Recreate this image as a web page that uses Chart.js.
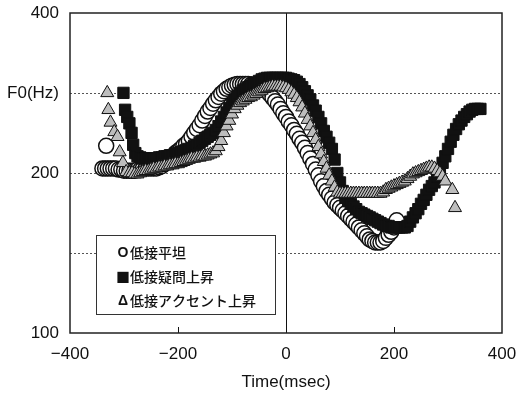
<!DOCTYPE html>
<html><head><meta charset="utf-8">
<script src="https://cdn.jsdelivr.net/npm/chart.js@4/dist/chart.umd.min.js"></script>
<style>html,body{margin:0;padding:0;background:#fff}canvas{display:block}</style>
</head><body>
<canvas id="c" width="531" height="393"></canvas>
<script>
const seriesNames = ['低接平坦', '低接疑問上昇', '低接アクセント上昇'];
const legendSymbols = ['O', '■', 'Δ'];

const s1Time = [-333,
  -340,-335,-330,-325,-320,-315,-310,-305,-300,
  -295,-290,-285,-280,-275,-270,-265,-260,-255,
  -250,-245,-240,-235,-230,-225,-220,-215,-210,
  -205,-200,-195,-190,-185,-180,-175,-170,-165,
  -160,-155,-150,-145,-140,-135,-130,-125,-120,
  -115,-110,-105,-100,-95,-90,-85,-80,-75,
  -70,-65,-60,-55,-50,-45,-40,-35,-30,
  -25,-20,-15,-10,-5,0,5,10,15,
  20,25,30,35,40,45,50,55,60,
  65,70,75,80,85,90,95,100,105,
  110,115,120,125,130,135,140,145,150,
  155,160,165,170,175,180,185,190,195,
  200,205];
const s1F0 = [225,
  204,204,204,204,204,204,203,203,202,
  202,202,202,202,203,203,204,204,204,
  204,204,204,205,206,208,210,212,215,
  218,220,222,225,227,230,234,238,242,
  246,251,256,261,265,270,274,278,282,
  285,288,290,292,293,294,294,294,294,
  294,293,293,292,291,290,288,285,281,
  277,273,269,264,259,255,250,246,241,
  237,232,228,223,218,213,208,203,198,
  193,189,185,182,179,176,174,172,170,
  168,166,164,162,160,158,156,154,152,
  150,149,148,148,148,149,151,153,155,
  158,163];

const s2Time = [-301,-298,-294,-290,-286,-283,-279,-275,
  -270,-265,-260,-255,-250,-245,-240,-235,-230,
  -225,-220,-215,-210,-205,-200,-195,-190,-185,
  -180,-175,-170,-165,-160,-155,-150,-145,-140,
  -135,-130,-125,-120,-115,-110,-105,-100,-95,
  -90,-85,-80,-75,-70,-65,-60,-55,-50,
  -45,-40,-35,-30,-25,-20,-15,-10,-5,
  0,5,10,15,20,25,30,35,40,
  45,50,55,60,65,70,75,80,85,
  90,95,100,105,110,115,120,125,130,
  135,140,145,150,155,160,165,170,175,
  180,185,190,195,200,205,210,215,220,
  225,230,235,240,245,250,255,260,265,
  270,275,280,285,290,295,300,305,310,
  315,320,325,330,335,340,345,350,355,360];
const s2F0 = [283,263,255,248,238,226,218,215,
  214,213,213,213,213,213,213,214,214,
  215,215,216,216,217,218,219,220,221,
  222,223,225,226,228,230,232,234,236,
  238,241,245,250,255,260,265,270,275,
  279,283,286,288,290,292,294,296,298,
  300,301,302,302,302,302,302,302,302,
  302,301,300,299,297,294,290,285,280,
  275,268,262,255,248,240,234,228,222,
  212,200,192,185,180,177,175,173,171,
  169,168,167,166,165,164,163,162,161,
  160,159,159,158,158,158,158,158,158,
  159,162,165,168,171,175,178,182,186,
  189,192,197,203,209,215,222,229,236,
  242,247,251,255,258,261,263,264,264,264];

const s3Time = [-331,-329,-325,-318,-312,-308,-302,-296,
  -290,-285,-280,-275,-270,-265,-260,-255,-250,
  -245,-240,-235,-230,-225,-220,-215,-210,-205,
  -200,-195,-190,-185,-180,-175,-170,-165,-160,
  -155,-150,-145,-140,-135,-130,-125,-120,-115,
  -110,-105,-100,-95,-90,-85,-80,-75,-70,
  -65,-60,-55,-50,-45,-40,-35,-30,-25,
  -20,-15,-10,-5,0,5,10,15,20,
  25,30,35,40,45,50,55,60,65,
  70,75,80,85,90,95,100,105,110,
  115,120,125,130,135,140,145,150,155,
  160,165,170,175,180,185,190,195,200,
  205,210,215,220,225,230,235,240,245,
  250,255,260,265,270,275,280,285,290,
  295,308,313];
const s3F0 = [283,263,249,239,234,219,209,201,
  200,200,199,199,200,201,202,202,203,
  204,204,205,205,206,206,207,207,208,
  208,209,210,211,212,213,213,214,214,
  215,215,216,217,218,220,224,230,238,
  245,251,258,264,268,271,273,275,277,
  278,280,282,284,286,288,289,290,291,
  291,291,291,290,289,287,284,281,277,
  272,266,259,252,245,238,231,224,217,
  210,204,198,193,188,184,183,183,183,
  183,183,183,183,183,183,183,183,183,
  183,183,183,183,184,186,187,188,189,
  190,191,192,193,195,197,199,200,201,
  202,203,204,205,205,204,202,200,197,
  193,186,172];

const xTickValues = [-400, -200, 0, 200, 400];
const yTickValues = [100, 141.42, 200, 282.84, 400];
const yTickLabels = ['100', '', '200', 'F0(Hz)', '400'];
const xTitle = 'Time(msec)';

const toPts = (t, f) => t.map((v, i) => ({x: v, y: f[i]}));
const TXT = '#111';
const tickFont = {family: "'Liberation Sans', Arial, sans-serif", size: 17};

const decor = {
  id: 'decor',
  afterDraw(chart) {
    const {ctx, chartArea: a, scales: {x}} = chart;
    ctx.save();
    ctx.strokeStyle = '#111';
    ctx.lineWidth = 1;
    xTickValues.slice(1, -1).forEach(v => {
      const px = Math.round(x.getPixelForValue(v)) + 0.5;
      ctx.beginPath(); ctx.moveTo(px, a.bottom); ctx.lineTo(px, a.bottom - 6); ctx.stroke();
    });
    ctx.lineWidth = 1.5;
    ctx.strokeStyle = '#222';
    ctx.strokeRect(a.left, a.top, a.right - a.left, a.bottom - a.top);
    // legend box
    const lx = a.left + 26, ly = a.top + 222, lw = 179, lh = 79;
    ctx.fillStyle = '#fff';
    ctx.fillRect(lx, ly, lw, lh);
    ctx.lineWidth = 1;
    ctx.strokeStyle = '#333';
    ctx.strokeRect(lx + 0.5, ly + 0.5, lw, lh);
    const rows = [18, 42, 66];
    ctx.textBaseline = 'middle';
    ctx.fillStyle = TXT;
    seriesNames.forEach((name, i) => {
      const cy = ly + rows[i];
      ctx.font = (i === 1) ? "14px 'Noto Sans CJK JP', sans-serif" : "bold 14px 'Liberation Sans', Arial, sans-serif";
      ctx.textAlign = 'center';
      ctx.fillText(legendSymbols[i], lx + 27, cy);
      ctx.textAlign = 'left';
      ctx.font = "500 14px 'Noto Sans CJK JP', sans-serif";
      ctx.fillText(name, lx + 34, cy);
    });
    ctx.restore();
  }
};

new Chart(document.getElementById('c'), {
  type: 'scatter',
  data: {
    datasets: [
      {label: seriesNames[0], data: toPts(s1Time, s1F0), pointStyle: 'circle', pointRadius: 7.5,
       pointBackgroundColor: '#ffffff', pointBorderColor: '#111', pointBorderWidth: 1.5, order: 3},
      {label: seriesNames[1], data: toPts(s2Time, s2F0), pointStyle: 'rect', pointRadius: 8,
       pointBackgroundColor: '#111', pointBorderColor: '#111', pointBorderWidth: 1, order: 2},
      {label: seriesNames[2], data: toPts(s3Time, s3F0), pointStyle: 'triangle', pointRadius: 7.5,
       pointBackgroundColor: '#bdbdbd', pointBorderColor: '#111', pointBorderWidth: 1, order: 1}
    ]
  },
  options: {
    responsive: false,
    animation: false,
    devicePixelRatio: 1,
    layout: {padding: {top: 13, right: 29, left: 0, bottom: 0}},
    plugins: {legend: {display: false}, tooltip: {enabled: false}},
    scales: {
      x: {
        type: 'linear', min: -400, max: 400,
        afterBuildTicks: s => { s.ticks = xTickValues.map(v => ({value: v})); },
        afterFit: s => { s.height = 60; s.paddingLeft = 0; s.paddingRight = 0; },
        ticks: {callback: v => String(v).replace('-', '−'), font: tickFont, color: TXT,
                padding: 11, maxRotation: 0, autoSkip: false},
        grid: {drawTicks: false, lineWidth: 1,
               color: c => (c.tick && c.tick.value === 0) ? '#111' : 'rgba(0,0,0,0)'},
        border: {display: false},
        title: {display: true, text: xTitle, font: tickFont, color: TXT, padding: {top: 2, bottom: 0}}
      },
      y: {
        type: 'logarithmic', min: 100, max: 400,
        afterBuildTicks: s => { s.ticks = yTickValues.map(v => ({value: v})); },
        afterFit: s => { s.width = 70; s.paddingTop = 0; s.paddingBottom = 0; },
        ticks: {callback: (v, i) => yTickLabels[i], font: tickFont, color: TXT, padding: 11, autoSkip: false},
        grid: {drawTicks: false, lineWidth: 1,
               color: c => (c.tick && (c.tick.value === 100 || c.tick.value === 400)) ? 'rgba(0,0,0,0)' : '#555'},
        border: {display: false, dash: [2, 2]}
      }
    }
  },
  plugins: [decor]
});
</script>
</body></html>
